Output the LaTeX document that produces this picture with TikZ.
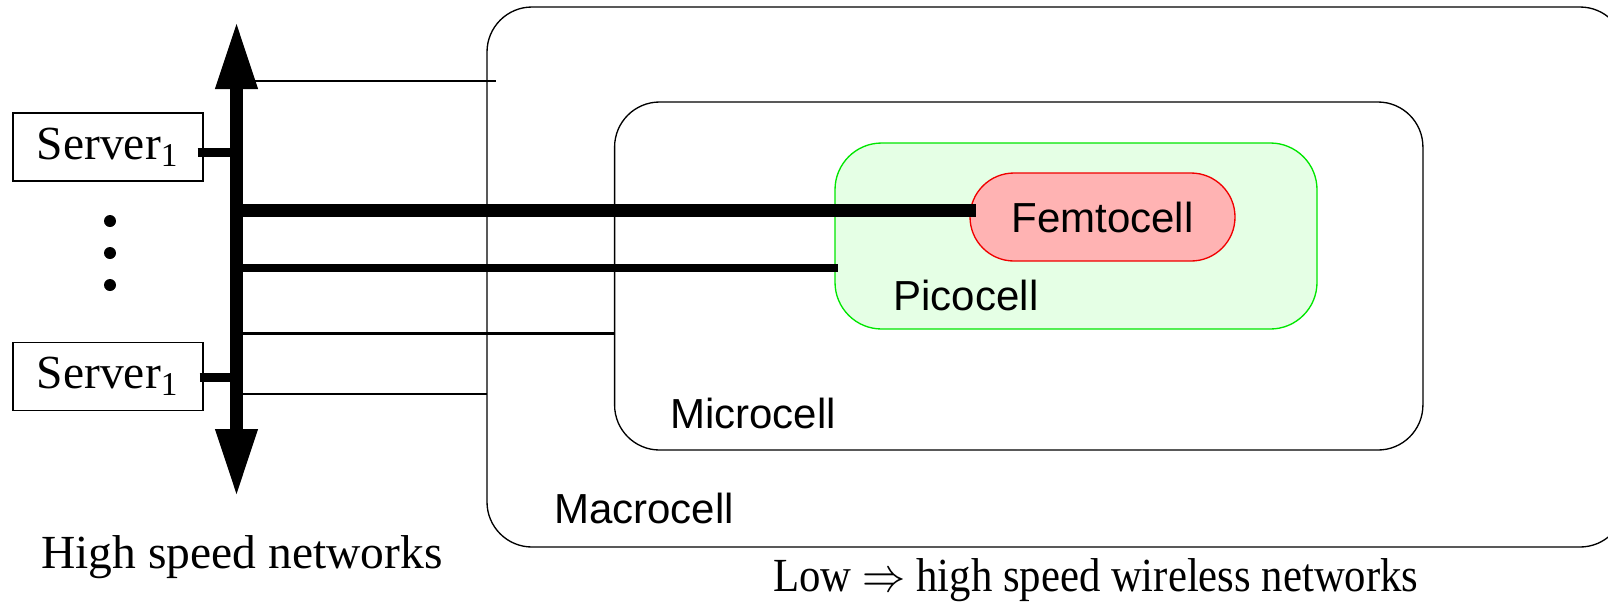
\documentclass[tikz,border=0pt]{standalone}
\usepackage{fontspec}
\setmainfont{Liberation Serif}
\newfontfamily\cellfont{Liberation Sans}
\usetikzlibrary{calc,arrows.meta}

\definecolor{picofill}{RGB}{229,255,229}
\definecolor{picoline}{RGB}{0,230,0}
\definecolor{femtofill}{RGB}{255,179,179}
\definecolor{femtoline}{RGB}{240,0,0}

\tikzset{
	cell/.style={draw, line width=0.4pt, inner sep=0pt, outer sep=0pt},
	celltext/.style={font=\cellfont\fontsize{12.6}{15}\selectfont, inner sep=0pt},
	serftext/.style={font=\fontsize{14.25}{17}\selectfont, inner sep=0pt},
	serverbox/.style={draw, line width=0.4pt, minimum width=57pt, minimum height=20.4pt, inner sep=0pt, font=\fontsize{14.25}{17}\selectfont},
	busline/.style={line width=3.9pt, {Triangle[length=20.4pt,width=11.7pt]}-{Triangle[length=20.4pt,width=11.7pt]}},
	fatlink/.style={line width=3.9pt},
	midlink/.style={line width=2.4pt},
	srvlink/.style={line width=2.7pt},
	thinlink/.style={line width=0.75pt},
	hairlink/.style={line width=0.4pt}
}

\begin{document}
\begin{tikzpicture}[x=0.3pt,y=-0.3pt]

		\useasboundingbox (0,0) rectangle (1608,601);
		\clip (0,0) rectangle (1608,601);

		% Cells
		\node [cell, rounded corners=13.5pt, minimum width=341.4pt, minimum height=162pt] (macro) at (1056,277) {};
		\node [cell, rounded corners=13.5pt, minimum width=242.5pt, minimum height=104.4pt] (micro) at (1018.75,276) {};
		\node [cell, draw=picoline, fill=picofill, rounded corners=14pt, minimum width=144.6pt, minimum height=55.8pt] (pico) at (1076,236) {};
		\node [cell, draw=femtoline, fill=femtofill, rounded corners=13.2pt, minimum width=79.5pt, minimum height=26.4pt, celltext] (femto) at (1102.5,217) {Femtocell};

		\node [celltext] (picolbl) at (966,295) {Picocell};
		\node [celltext] (microlbl) at (753,413) {Microcell};
		\node [celltext] (macrolbl) at (644,508) {Macrocell};

		% Servers
		\node [serverbox] (srv1) at (108,147) {Server\textsubscript{1}};
		\node [serverbox] (srv2) at (108,376.5) {Server\textsubscript{1}};

		\foreach \y in {221,253,285}
			\fill (110,\y) circle[radius=1.8pt];

		% Bus
		\coordinate (bustop) at (236.5,21);
		\coordinate (busbot) at (236.5,497);
		\coordinate (tap0) at (236.5,81);
		\coordinate (tap1) at (236.5,210);
		\coordinate (tap2) at (236.5,268);
		\coordinate (tap3) at (236.5,333.5);
		\coordinate (tap4) at (236.5,394);
		\coordinate (tapS1) at (236.5,152);
		\coordinate (tapS2) at (236.5,377);

		\draw [hairlink] (tap0) -- (tap0 -| macro.west) -- ++(2.7pt,0);
		\draw [fatlink] (tap1) -- ([xshift=1.8pt]tap1 -| femto.west);
		\draw [midlink] (tap2) -- ([xshift=1pt]tap2 -| pico.west);
		\draw [thinlink] (tap3) -- (tap3 -| micro.west);
		\draw [hairlink] (tap4) -- (tap4 -| macro.west);

		\draw [srvlink] ([xshift=-1.8pt]tapS1 -| srv1.east) -- (tapS1);
		\draw [srvlink] ([xshift=-1.2pt]tapS2 -| srv2.east) -- (tapS2);

		\draw [busline] (bustop) -- (busbot);

		% Captions
		\node [serftext] (hsnet) at (242,557) {High speed networks};
		\node [serftext] (wlnet) at (1096,580) {\scalebox{0.9}[1]{Low $\Rightarrow$ high speed wireless networks}};

	\end{tikzpicture}
\end{document}
